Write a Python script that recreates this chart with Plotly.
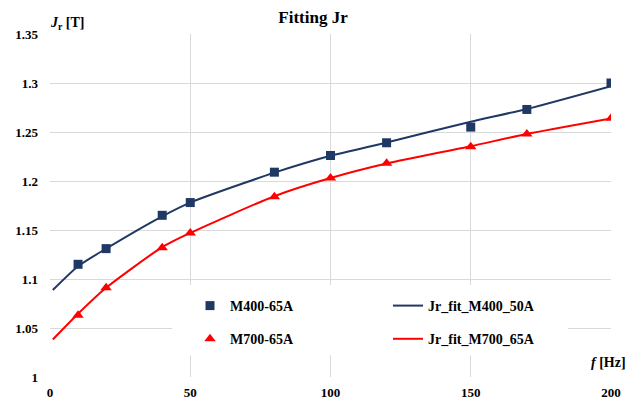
import plotly.graph_objects as go

# Measured Jr values [T] at each test frequency [Hz]
freq = [10, 20, 40, 50, 80, 100, 120, 150, 170, 200]
jr_m400 = [1.115, 1.131, 1.165, 1.178, 1.209, 1.226, 1.239, 1.255, 1.273, 1.300]
jr_m700 = [1.063, 1.091, 1.132, 1.147, 1.184, 1.203, 1.218, 1.235, 1.248, 1.264]

# Fitted curves sampled along the frequency axis
fit_freq = [1, 10, 20, 40, 50, 80, 100, 120, 150, 170, 200]
fit_m400 = [1.0887, 1.113, 1.131, 1.164, 1.178, 1.2085, 1.2257, 1.2393, 1.2605, 1.2735, 1.2968]
fit_m700 = [1.0382, 1.0645, 1.091, 1.1325, 1.147, 1.1845, 1.203, 1.2178, 1.2355, 1.248, 1.2638]

x_ticks = [0, 50, 100, 150, 200]
y_ticks = [1.0, 1.05, 1.1, 1.15, 1.2, 1.25, 1.3, 1.35]
y_tick_text = ["1", "1.05", "1.1", "1.15", "1.2", "1.25", "1.3", "1.35"]

NAVY = "#203864"
RED = "#FF0000"
GRID = "#D9D9D9"
FONT = "Liberation Serif"

fig = go.Figure()

fig.add_trace(go.Scatter(
    x=fit_freq, y=fit_m400, mode="lines", name="Jr_fit_M400_50A",
    line=dict(color=NAVY, width=2, shape="spline", smoothing=0.6),
    legend="legend2", legendgroup="a",
))
fig.add_trace(go.Scatter(
    x=fit_freq, y=fit_m700, mode="lines", name="Jr_fit_M700_65A",
    line=dict(color=RED, width=2, shape="spline", smoothing=0.6),
    legend="legend2", legendgroup="b",
))
fig.add_trace(go.Scatter(
    x=freq, y=jr_m400, mode="markers", name="M400-65A",
    marker=dict(symbol="square", size=9, color=NAVY),
    legend="legend", legendgroup="c",
))
fig.add_trace(go.Scatter(
    x=freq, y=jr_m700, mode="markers", name="M700-65A",
    marker=dict(symbol="triangle-up", size=10, color=RED),
    legend="legend", legendgroup="d",
))

legend_font = dict(family=FONT, size=14, color="#000000", weight="bold")
legend_common = dict(
    font=legend_font, bgcolor="rgba(0,0,0,0)", orientation="v",
    traceorder="grouped", tracegroupgap=12, yanchor="top", xanchor="left",
)

fig.update_layout(
    width=641, height=401,
    margin=dict(l=50, r=30, t=34, b=24),
    paper_bgcolor="white", plot_bgcolor="white",
    title=dict(
        text="Fitting Jr", x=313 / 641, xanchor="center",
        y=1 - 17 / 401, yanchor="middle",
        font=dict(family=FONT, size=17, color="#000000", weight="bold"),
    ),
    legend=dict(x=(190 - 50) / 561, y=(377 - 290) / 343, **legend_common),
    legend2=dict(x=(388 - 50) / 561, y=(377 - 290) / 343, **legend_common),
    xaxis=dict(
        range=[0, 200], tickvals=x_ticks, showgrid=True, gridcolor=GRID,
        gridwidth=1, zeroline=False, showline=False, automargin=False,
        tickfont=dict(family=FONT, size=13, color="#000000", weight="bold"),
        ticklabelstandoff=6,
    ),
    yaxis=dict(
        range=[1.0, 1.35], tickvals=y_ticks, ticktext=y_tick_text,
        showgrid=True, gridcolor=GRID, gridwidth=1, zeroline=False,
        showline=False, automargin=False,
        tickfont=dict(family=FONT, size=13, color="#000000", weight="bold"),
        ticklabelstandoff=11,
    ),
    shapes=[dict(
        type="rect", xref="x", yref="y", x0=43.6, x1=184.6, y0=1.0222, y1=1.0938,
        fillcolor="white", line=dict(width=0), layer="between",
    )],
    annotations=[
        dict(
            text="<i>J</i><sub>r</sub> [T]", xref="paper", yref="paper",
            x=(48 - 50) / 561, y=(377 - 23) / 343, xanchor="left", yanchor="middle",
            showarrow=False,
            font=dict(family=FONT, size=14, color="#000000", weight="bold"),
        ),
        dict(
            text="<i>f</i> [Hz]", xref="paper", yref="paper",
            x=(628 - 50) / 561, y=(377 - 362) / 343, xanchor="right", yanchor="middle",
            showarrow=False,
            font=dict(family=FONT, size=14, color="#000000", weight="bold"),
        ),
    ],
)

fig.write_html("out.html")
